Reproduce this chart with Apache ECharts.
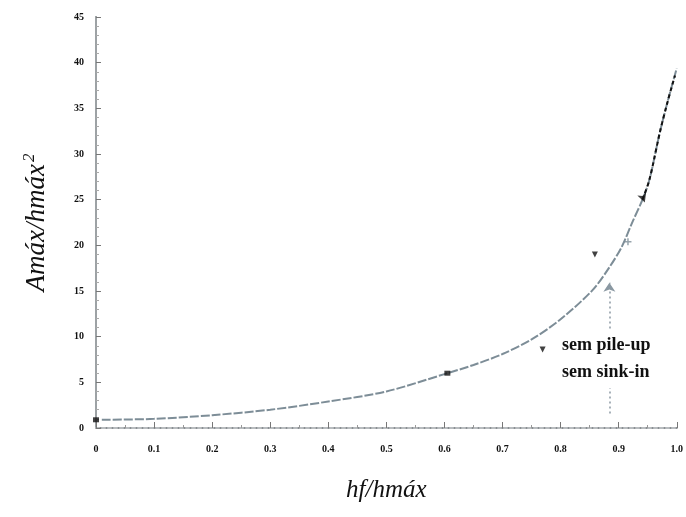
<!DOCTYPE html>
<html><head><meta charset="utf-8">
<script src="https://cdn.jsdelivr.net/npm/echarts@6/dist/echarts.min.js"></script>
<style>html,body{margin:0;padding:0;background:#fff}#c{width:686px;height:517px}</style>
</head><body><div id="c"></div>
<script>
// curve
const curveX = [0.01, 0.1, 0.2, 0.3, 0.4, 0.5, 0.6, 0.65, 0.7, 0.75, 0.8, 0.855, 0.884, 0.905, 0.924, 0.941, 0.953, 0.971, 0.985, 1.0];
const curveY = [0.9, 1.0, 1.4, 2.0, 2.9, 4.0, 5.9, 6.9, 8.1, 9.7, 11.9, 15.1, 17.6, 19.8, 22.6, 25.0, 27.2, 32.4, 35.9, 39.4];
// black dotted upper portion
const upperX = [0.941, 0.953, 0.971, 0.985, 0.997];
const upperY = [25.0, 27.2, 32.4, 35.9, 38.6];
// symbols
const squareP = [[0, 0.9], [0.605, 6.0]];
const triP = [[0.769, 8.6], [0.859, 19.0]];
const crossP = [[0.916, 20.4]];
const arrowP = [[0.945, 24.7]];
// vertical arrow
const vArrowX = 0.884, vArrowY0 = 1.6, vArrowY1 = 15.9;
const xTicks = [0, 1, 0.1];
const yTicks = [0, 45, 5];

const chart = echarts.init(document.getElementById('c'));
const serif = '"Liberation Serif", "DejaVu Serif", serif';
chart.setOption({
  animation: false,
  grid: {left: 96, right: 7, top: 17, bottom: 89},
  xAxis: [{
    type: 'value', min: xTicks[0], max: xTicks[1], interval: xTicks[2],
    name: 'hf/hmáx', nameLocation: 'middle', nameGap: 50,
    nameTextStyle: {fontFamily: serif, fontStyle: 'italic', fontSize: 25, color: '#111'},
    axisLine: {show: true, lineStyle: {color: '#8a8f93', width: 2}},
    axisTick: {show: true, inside: true, length: 6, lineStyle: {color: '#777'}},
    minorTick: {show: true, splitNumber: 2, length: 3, lineStyle: {color: '#999'}},
    splitLine: {show: false},
    axisLabel: {margin: 16, fontFamily: serif, fontWeight: 'bold', fontSize: 10, color: '#111',
      formatter: v => v === 0 ? '0' : v.toFixed(1)}
  }, {
    type: 'value', position: 'top', min: 0, max: 1,
    axisLine: {show: true, lineStyle: {color: '#b8bcbf', width: 2, type: [3, 3]}},
    axisTick: {show: false}, axisLabel: {show: false}, splitLine: {show: false}
  }],
  yAxis: [{
    type: 'value', min: yTicks[0], max: yTicks[1], interval: yTicks[2],
    name: '{a|Amáx/hmáx}{s|2}', nameLocation: 'middle', nameGap: 44, nameRotate: 90,
    nameTextStyle: {rich: {
      a: {fontFamily: serif, fontStyle: 'italic', fontSize: 27, color: '#111'},
      s: {fontFamily: serif, fontStyle: 'italic', fontSize: 17, color: '#111', verticalAlign: 'top', padding: [0, 0, 14, 2]}
    }},
    axisLine: {show: true, lineStyle: {color: '#8a8f93', width: 2}},
    axisTick: {show: true, inside: true, length: 5, lineStyle: {color: '#777'}},
    minorTick: {show: true, splitNumber: 5, length: 3, lineStyle: {color: '#aaa'}},
    splitLine: {show: false},
    axisLabel: {margin: 12, fontFamily: serif, fontWeight: 'bold', fontSize: 10, color: '#111'}
  }, {
    type: 'value', position: 'right', min: 0, max: 45,
    axisLine: {show: true, lineStyle: {color: '#9da2a5', width: 2}},
    axisTick: {show: false}, axisLabel: {show: false}, splitLine: {show: false}
  }],
  series: [
    {type: 'line', smooth: 0.3, symbol: 'none', data: curveX.map((x, i) => [x, curveY[i]]),
      lineStyle: {color: '#7d8d97', width: 2, type: [9, 2]}, z: 2},
    {type: 'line', smooth: 0.3, symbol: 'none', data: upperX.map((x, i) => [x, upperY[i]]),
      lineStyle: {color: '#111', width: 2, type: [4, 3]}, z: 3},
    {type: 'scatter', symbol: 'rect', symbolSize: [6, 5], data: squareP, itemStyle: {color: '#111'}, z: 4},
    {type: 'scatter', symbol: 'triangle', symbolRotate: 180, symbolSize: 6, data: triP, itemStyle: {color: '#111'}, z: 4},
    {type: 'scatter', symbol: 'path://M0,4L8,4M4,0L4,8', symbolSize: 7, data: crossP,
      itemStyle: {color: 'none', borderColor: '#7d8d97', borderWidth: 1.5}, z: 4},
    {type: 'scatter', symbol: 'arrow', symbolRotate: 200, symbolSize: [7, 9], data: arrowP, itemStyle: {color: '#111'}, z: 4},
    {type: 'line', symbol: 'none', data: [],
      markLine: {silent: true, symbol: ['none', 'arrow'], symbolSize: 9, label: {show: false},
        lineStyle: {color: '#8a98a2', width: 1.5, type: [2, 3]},
        data: [[{coord: [vArrowX, vArrowY0]}, {coord: [vArrowX, vArrowY1]}]]}}
  ],
  graphic: [{
    type: 'text', left: 560, top: 330, z: 10,
    style: {text: 'sem pile-up\nsem sink-in', fontFamily: serif, fontWeight: 'bold', fontSize: 18,
      lineHeight: 27, fill: '#111', backgroundColor: '#fff', padding: [2, 2]}
  }]
});
</script></body></html>
